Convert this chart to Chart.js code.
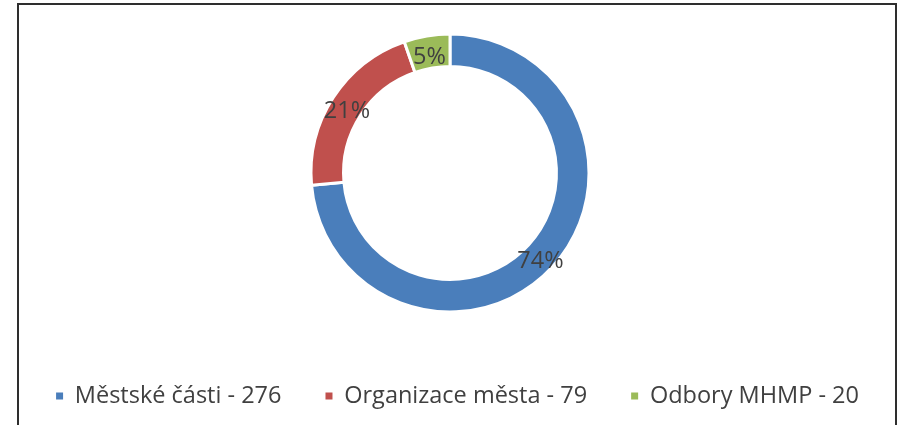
<!DOCTYPE html>
<html>
<head>
<meta charset="utf-8">
<script src="https://cdn.jsdelivr.net/npm/chart.js@4.4.1/dist/chart.umd.min.js"></script>
<style>
  html, body { margin: 0; padding: 0; background: #ffffff; overflow: hidden; }
  #frame { position: absolute; left: 17px; top: 3px; width: 876px; height: 460px;
           border: 2px solid #2e2e2e; border-bottom: none; }
  #wrap { position: absolute; left: 0; top: 0; width: 904px; height: 425px; }
</style>
</head>
<body>
<div id="frame"></div>
<div id="wrap"><canvas id="c" width="904" height="425"></canvas></div>
<script>
const categories = ["Městské části", "Organizace města", "Odbory MHMP"];
const counts = [276, 79, 20];
const colors = ["#4a7ebb", "#c0504d", "#9bbb59"];
const textColor = "#404040";
const fontFamily = "'Open Sans', sans-serif";

const total = counts.reduce((a, b) => a + b, 0);

const percentLabels = {
  id: 'percentLabels',
  afterDatasetsDraw(chart) {
    const ctx = chart.ctx;
    const meta = chart.getDatasetMeta(0);
    ctx.save();
    ctx.font = "23.5px " + fontFamily;
    ctx.fillStyle = textColor;
    ctx.textAlign = 'center';
    ctx.textBaseline = 'middle';
    meta.data.forEach((arc, i) => {
      const p = arc.getCenterPoint();
      const pct = Math.round(counts[i] / total * 100) + '%';
      ctx.fillText(pct, p.x, p.y + 5);
    });
    ctx.restore();
  }
};

const shiftLegend = {
  id: 'shiftLegend',
  afterLayout(chart) {
    if (chart.legend) { chart.legend.left += 7.5; chart.legend.right += 7.5; }
  }
};

new Chart(document.getElementById('c'), {
  type: 'doughnut',
  data: {
    labels: categories,
    datasets: [{
      data: counts,
      backgroundColor: colors,
      borderColor: '#ffffff',
      borderWidth: 3,
      radius: 139,
      cutout: '76.6%'
    }]
  },
  options: {
    responsive: false,
    animation: false,
    layout: { padding: { top: 5.75, bottom: 7.25, left: 0, right: 4 } },
    plugins: {
      tooltip: { enabled: false },
      legend: {
        position: 'bottom',
        labels: {
          boxWidth: 7,
          boxHeight: 7,
          padding: 44,
          color: textColor,
          font: { family: fontFamily, size: 23.5 },
          generateLabels(chart) {
            return categories.map((c, i) => ({
              text: c + ' - ' + counts[i],
              fillStyle: colors[i],
              strokeStyle: colors[i],
              lineWidth: 0,
              fontColor: textColor,
              index: i,
              hidden: false
            }));
          }
        }
      }
    }
  },
  plugins: [percentLabels, shiftLegend]
});
</script>
</body>
</html>
